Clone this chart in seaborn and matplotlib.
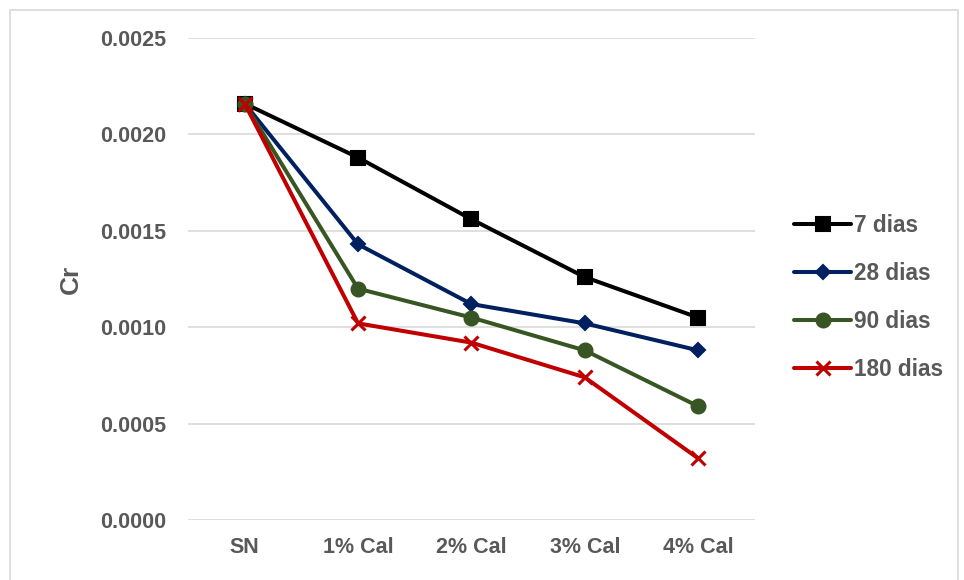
import matplotlib
matplotlib.use("Agg")
import matplotlib.pyplot as plt
import seaborn as sns
import pandas as pd
from matplotlib.patches import Rectangle

categories = ["SN", "1% Cal", "2% Cal", "3% Cal", "4% Cal"]
series_names = ["7 dias", "28 dias", "90 dias", "180 dias"]
dias7 = [0.00216, 0.00188, 0.00156, 0.00126, 0.00105]
dias28 = [0.00216, 0.00143, 0.00112, 0.00102, 0.00088]
dias90 = [0.00216, 0.00120, 0.00105, 0.00088, 0.00059]
dias180 = [0.00216, 0.00102, 0.00092, 0.00074, 0.00032]
y_ticks = [0.0, 0.0005, 0.0010, 0.0015, 0.0020, 0.0025]

sns.set_theme(style="white")
plt.rcParams["font.family"] = ["Liberation Sans", "DejaVu Sans"]

fig = plt.figure(figsize=(9.64, 5.8), dpi=100)
ax = fig.add_axes([0.195, 0.1034, 0.588, 0.8311])

styles = [
    ("#000000", "s", 10.5, 1.5),
    ("#002060", "D", 7.5, 1.5),
    ("#375623", "o", 10.0, 1.5),
    ("#C00000", "x", 9.5, 2.2),
]
values = [dias7, dias28, dias90, dias180]
for name, vals, (col, mk, ms, mew) in zip(series_names, values, styles):
    df = pd.DataFrame({"cat": categories, "val": vals})
    sns.lineplot(data=df, x="cat", y="val", ax=ax, color=col, marker=mk,
                 markersize=ms, markeredgecolor=col, markerfacecolor=col,
                 markeredgewidth=mew, linewidth=2.9, label=name, sort=False)

ax.set_xlim(-0.5, 4.5)
ax.set_ylim(0, 0.0025)
ax.set_yticks(y_ticks)
ax.set_yticklabels([f"{t:.4f}" for t in y_ticks])
ax.yaxis.grid(True, color="#D9D9D9", linewidth=1.2)
ax.xaxis.grid(False)
for s in ax.spines.values():
    s.set_visible(False)
ax.tick_params(axis="both", length=0, labelsize=15.5, labelcolor="#595959")
ax.tick_params(axis="y", pad=16)
ax.tick_params(axis="x", pad=12)
for lab in ax.get_xticklabels() + ax.get_yticklabels():
    lab.set_fontweight("bold")
ax.set_xlabel("")
ax.set_ylabel("Cr", fontsize=19, fontweight="bold", color="#595959", labelpad=12)

leg = ax.legend(loc="center left", bbox_to_anchor=(1.034, 0.462), frameon=False,
                handlelength=2.5, handletextpad=0.15, labelspacing=1.1,
                prop={"size": 16.3, "weight": "bold"})
for t in leg.get_texts():
    t.set_color("#595959")

fig.patches.append(Rectangle((10 / 964, -0.05), 948 / 964, 1 - 10 / 580 + 0.05,
                             transform=fig.transFigure, fill=False,
                             edgecolor="#D9D9D9", linewidth=1.2))

fig.savefig("out.png", dpi=100)
